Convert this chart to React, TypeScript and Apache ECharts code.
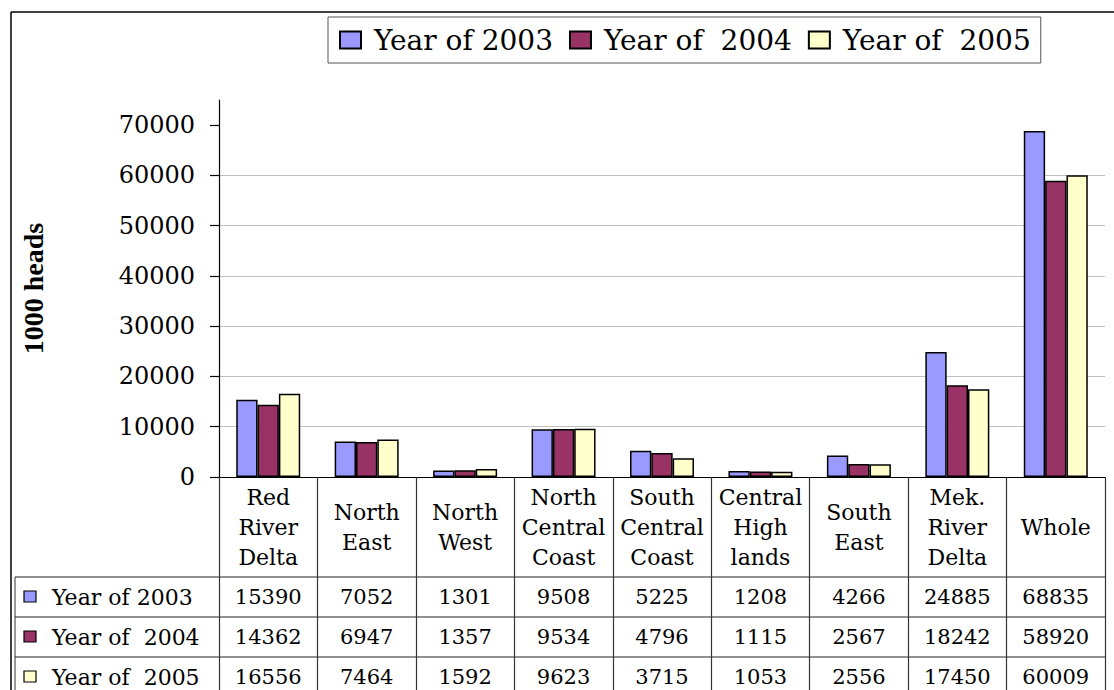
import React, { useEffect, useRef } from "react";
import * as echarts from "echarts";

const categories = [
  "Red\nRiver\nDelta",
  "North\nEast",
  "North\nWest",
  "North\nCentral\nCoast",
  "South\nCentral\nCoast",
  "Central\nHigh\nlands",
  "South\nEast",
  "Mek.\nRiver\nDelta",
  "Whole",
];
const seriesNames = ["Year of 2003", "Year of  2004", "Year of  2005"];
const values2003 = [15390, 7052, 1301, 9508, 5225, 1208, 4266, 24885, 68835];
const values2004 = [14362, 6947, 1357, 9534, 4796, 1115, 2567, 18242, 58920];
const values2005 = [16556, 7464, 1592, 9623, 3715, 1053, 2556, 17450, 60009];
const yTicks = [0, 10000, 20000, 30000, 40000, 50000, 60000, 70000];
const yMax = 75000;
const colors = ["#9999FF", "#993366", "#FFFFCC"];

const FONT = "DejaVu Serif";

export default function App() {
  const ref = useRef<HTMLDivElement>(null);
  useEffect(() => {
    if (!ref.current) return;
    const chart = echarts.init(ref.current, null, { renderer: "svg" });
    const W = 1114;
    const H = 690;
    const gridLeft = 219;
    const gridRight = 1105;
    const gridTop = 100;
    const gridBottomY = 477;
    const headerH = 100;
    const rowH = 40;
    const allValues = [values2003, values2004, values2005];
    const rowTop = gridBottomY + headerH;

    const tableAxes = allValues.map((vals, r) => ({
      type: "category" as const,
      data: categories,
      position: "bottom" as const,
      offset: headerH + r * rowH,
      axisLine: { show: false },
      axisTick: { show: false },
      splitLine: { show: false },
      axisLabel: {
        interval: 0,
        margin: rowH / 2,
        verticalAlign: "middle" as const,
        fontFamily: FONT,
        fontSize: 21,
        color: "#000",
        formatter: (_v: string, i: number) => String(vals[i]),
      },
    }));

    const graphics: any[] = [
      { type: "line", shape: { x1: 11, y1: 12, x2: W, y2: 12 }, style: { stroke: "#000", lineWidth: 1.5 } },
      { type: "line", shape: { x1: 11, y1: 12, x2: 11, y2: H }, style: { stroke: "#000", lineWidth: 1.5 } },
      { type: "line", shape: { x1: 15, y1: rowTop, x2: 15, y2: H }, style: { stroke: "#333", lineWidth: 1 } },
    ];
    for (let r = 0; r < 3; r++) {
      const y = rowTop + r * rowH;
      graphics.push({
        type: "line",
        shape: { x1: 15, y1: y, x2: gridRight, y2: y },
        style: { stroke: "#222", lineWidth: 1.2 },
      });
      const cy = y + rowH / 2;
      graphics.push({
        type: "rect",
        shape: { x: 24, y: cy - 6, width: 12, height: 11 },
        style: { fill: colors[r], stroke: "#000", lineWidth: 1.2 },
      });
      graphics.push({
        type: "text",
        x: 52,
        y: cy,
        style: {
          text: seriesNames[r],
          fontFamily: FONT,
          fontSize: 22,
          fill: "#000",
          verticalAlign: "middle",
          align: "left",
        },
      });
    }

    chart.setOption({
      animation: false,
      backgroundColor: "#fff",
      legend: {
        data: seriesNames,
        icon: "rect",
        left: 328,
        top: 17,
        orient: "horizontal",
        itemWidth: 21,
        itemHeight: 17,
        itemGap: 16,
        padding: [9, 10, 9, 11],
        borderColor: "#555",
        borderWidth: 1,
        textStyle: {
          fontFamily: FONT,
          fontSize: 28,
          color: "#000",
          padding: [0, 0, 0, 8],
        },
      },
      grid: {
        left: gridLeft,
        right: W - gridRight,
        top: gridTop,
        bottom: H - gridBottomY,
        containLabel: false,
      },
      xAxis: [
        {
          type: "category",
          data: categories,
          position: "bottom",
          axisLine: { show: true, lineStyle: { color: "#000", width: 1.2 } },
          axisTick: {
            show: true,
            interval: 0,
            alignWithLabel: false,
            inside: false,
            length: H - gridBottomY,
            lineStyle: { color: "#333", width: 1.2 },
          },
          axisLabel: {
            interval: 0,
            margin: headerH / 2,
            verticalAlign: "middle",
            align: "center",
            fontFamily: FONT,
            fontSize: 22,
            lineHeight: 30,
            color: "#000",
          },
          splitLine: { show: false },
        },
        ...tableAxes,
      ],
      yAxis: {
        type: "value",
        min: 0,
        max: yMax,
        interval: 10000,
        name: "1000 heads",
        nameLocation: "middle",
        nameRotate: 90,
        nameGap: 172,
        nameTextStyle: {
          fontFamily: "Liberation Serif",
          fontWeight: "bold",
          fontSize: 28,
          color: "#000",
        },
        axisLine: { show: true, lineStyle: { color: "#000", width: 1.2 } },
        axisTick: {
          show: true,
          length: 9,
          lineStyle: { color: "#000", width: 1.2 },
          customValues: yTicks,
        },
        axisLabel: {
          margin: 24,
          fontFamily: FONT,
          fontSize: 24,
          color: "#000",
          customValues: yTicks,
          formatter: (v: number) => String(v),
        },
        splitLine: {
          show: true,
          showMaxLine: false,
          showMinLine: false,
          lineStyle: { color: "#c0c0c0", width: 1.2 },
        },
      },
      series: allValues.map((vals, i) => ({
        name: seriesNames[i],
        type: "bar",
        data: vals,
        barGap: "0%",
        barCategoryGap: "35%",
        itemStyle: { color: colors[i], borderColor: "#000", borderWidth: 1.5 },
      })),
      graphic: graphics,
    });
    return () => chart.dispose();
  }, []);
  return (
    <div
      ref={ref}
      style={{ position: "fixed", left: 0, top: 0, width: 1114, height: 690, background: "#fff" }}
    />
  );
}
